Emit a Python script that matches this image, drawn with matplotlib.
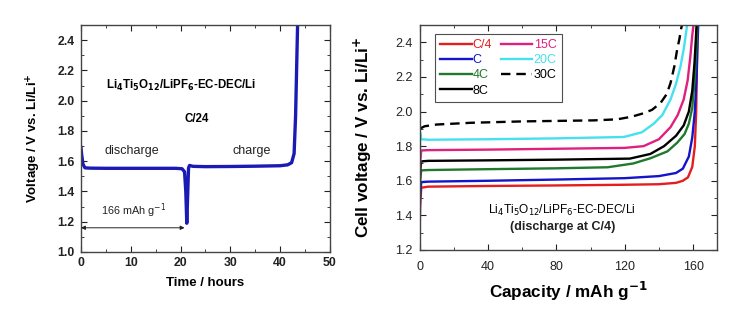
import matplotlib
matplotlib.use("Agg")
import matplotlib.pyplot as plt
from matplotlib.ticker import MultipleLocator

plt.rcParams['font.family'] = ['Liberation Sans', 'DejaVu Sans']

# ---- left panel data (C/24 discharge/charge) ----
time_h = [0, 0.15, 0.4, 0.8, 2, 5, 10, 15, 19, 20.3, 20.8, 21.05, 21.25, 21.45, 21.6, 21.8,
          22.5, 25, 30, 35, 40, 41.5, 42.3, 42.8, 43.1, 43.3, 43.5]
volt_h = [1.69, 1.64, 1.58, 1.556, 1.554, 1.553, 1.553, 1.553, 1.553, 1.55, 1.53, 1.40, 1.19,
          1.40, 1.555, 1.572, 1.566, 1.564, 1.565, 1.567, 1.57, 1.576, 1.59, 1.65, 1.9, 2.2, 2.5]

# ---- right panel data (charge curves at various rates) ----
rates = ["C/4", "C", "4C", "8C", "15C", "20C", "30C"]
cap_c4 = [0, 0.3, 1, 5, 40, 80, 120, 140, 150, 154, 157, 159.5, 161, 161.8, 162.3, 162.6]
v_c4 = [1.22, 1.45, 1.56, 1.566, 1.57, 1.573, 1.577, 1.58, 1.588, 1.6, 1.62, 1.68, 1.8, 2.0, 2.3, 2.5]
cap_c1 = [0, 0.3, 1, 5, 40, 80, 120, 140, 150, 154, 157.5, 159.5, 161, 162, 162.6, 163]
v_c1 = [1.25, 1.5, 1.592, 1.595, 1.6, 1.607, 1.615, 1.627, 1.645, 1.67, 1.74, 1.85, 2.0, 2.2, 2.4, 2.5]
cap_4c = [0, 0.3, 1, 5, 40, 80, 110, 125, 135, 145, 150.7, 155, 157.5, 159.5, 161, 162, 162.5]
v_4c = [1.3, 1.6, 1.66, 1.662, 1.667, 1.672, 1.678, 1.7, 1.73, 1.77, 1.82, 1.87, 1.93, 2.02, 2.2, 2.4, 2.5]
cap_8c = [0, 0.3, 1, 5, 40, 80, 123, 135, 143, 150, 154.5, 157.5, 159.5, 160.8, 161.6, 162]
v_8c = [1.3, 1.65, 1.712, 1.715, 1.718, 1.722, 1.728, 1.755, 1.8, 1.86, 1.92, 2.0, 2.12, 2.28, 2.42, 2.5]
cap_15c = [0, 0.3, 1, 5, 40, 80, 120, 131, 140, 146.8, 151, 154.5, 156.8, 158.4, 159.5, 160.2]
v_15c = [1.3, 1.7, 1.775, 1.777, 1.78, 1.785, 1.79, 1.8, 1.84, 1.91, 1.98, 2.07, 2.18, 2.32, 2.44, 2.5]
cap_20c = [0, 0.3, 1, 5, 40, 80, 119.5, 130, 137, 142, 146.8, 150, 152.6, 154.5, 155.8, 156.5]
v_20c = [1.3, 1.88, 1.84, 1.837, 1.84, 1.845, 1.853, 1.88, 1.93, 1.98, 2.07, 2.16, 2.26, 2.36, 2.45, 2.5]
cap_30c = [0.5, 1, 3, 10, 30, 60, 102, 115.6, 124, 131, 136, 141, 144.5, 146.8, 149, 150.7, 152, 153, 154]
v_30c = [1.9, 1.905, 1.915, 1.925, 1.935, 1.943, 1.949, 1.955, 1.97, 1.99, 2.01, 2.05, 2.1, 2.165, 2.26, 2.36, 2.42, 2.48, 2.52]

cap_series = [cap_c4, cap_c1, cap_4c, cap_8c, cap_15c, cap_20c, cap_30c]
v_series = [v_c4, v_c1, v_4c, v_8c, v_15c, v_20c, v_30c]
colors = ['#e41e1e', '#1414c8', '#1f7a2e', '#000000', '#e0207e', '#46e0ee', '#000000']
styles = ['-', '-', '-', '-', '-', '-', (0, (4, 2.5))]

fig = plt.figure(figsize=(7.54, 3.2), dpi=100)

def style_axes(ax, fs, bold, xpad=3.5, ypad=4):
    ax.tick_params(which='both', direction='in', top=True, right=True, labelsize=fs,
                   colors='#222222')
    ax.tick_params(axis='x', pad=xpad)
    ax.tick_params(axis='y', pad=ypad)
    ax.tick_params(which='major', length=4)
    ax.tick_params(which='minor', length=2.5)
    if bold:
        for lab in ax.get_xticklabels() + ax.get_yticklabels():
            lab.set_fontweight('bold')
    for sp in ax.spines.values():
        sp.set_color('#444444')
        sp.set_linewidth(1.0)

# ---- left axes ----
ax1 = fig.add_axes([0.1074, 0.2125, 0.3302, 0.7094])
ax1.plot(time_h, volt_h, color='#1a1ab4', lw=2.4)
ax1.set_xlim(0, 50)
ax1.set_ylim(1.0, 2.5)
ax1.xaxis.set_major_locator(MultipleLocator(10))
ax1.xaxis.set_minor_locator(MultipleLocator(5))
ax1.yaxis.set_major_locator(MultipleLocator(0.2))
ax1.yaxis.set_minor_locator(MultipleLocator(0.1))
style_axes(ax1, 8.8, True, xpad=3.5, ypad=4.5)
ax1.set_xlabel("Time / hours", fontsize=9.5, fontweight='bold', labelpad=6)
ax1.set_ylabel("Voltage / V vs. Li/Li$^{\\mathbf{+}}$", fontsize=9.5, fontweight='bold', labelpad=10)
ax1.text(20.0, 2.1, r"Li$_\mathbf{4}$Ti$_\mathbf{5}$O$_\mathbf{12}$/LiPF$_\mathbf{6}$-EC-DEC/Li",
         fontsize=8.3, fontweight='bold', ha='center', va='center')
ax1.text(23.3, 1.88, "C/24", fontsize=8.3, fontweight='bold', ha='center', va='center')
ax1.text(10.3, 1.665, "discharge", fontsize=9, ha='center', va='center', color='#222222')
ax1.text(34.3, 1.665, "charge", fontsize=9, ha='center', va='center', color='#222222')
ax1.text(10.5, 1.275, "166 mAh g$^{-1}$", fontsize=7.8, ha='center', va='center', color='#222222')
ax1.annotate("", xy=(0, 1.16), xytext=(20.8, 1.16),
             arrowprops=dict(arrowstyle='<|-|>', color='#222222', lw=0.7,
                             mutation_scale=6, shrinkA=0, shrinkB=0))

# ---- right axes ----
ax2 = fig.add_axes([0.5564, 0.21875, 0.3946, 0.7031])
for lab, xs, ys, c, ls in zip(rates, cap_series, v_series, colors, styles):
    ax2.plot(xs, ys, color=c, ls=ls, lw=1.7, label=lab)
ax2.set_xlim(0, 174)
ax2.set_ylim(1.2, 2.5)
ax2.xaxis.set_major_locator(MultipleLocator(40))
ax2.xaxis.set_minor_locator(MultipleLocator(20))
ax2.yaxis.set_major_locator(MultipleLocator(0.2))
ax2.yaxis.set_minor_locator(MultipleLocator(0.1))
style_axes(ax2, 9, False, xpad=8, ypad=5)
ax2.set_xlabel("Capacity / mAh g$^{\\mathbf{-1}}$", fontsize=12.3, fontweight='bold', labelpad=5)
ax2.set_ylabel("Cell voltage / V vs. Li/Li$^{\\mathbf{+}}$", fontsize=12.3, fontweight='bold', labelpad=15)
ax2.text(83.5, 1.43, r"Li$_4$Ti$_5$O$_{12}$/LiPF$_6$-EC-DEC/Li", fontsize=8.6,
         ha='center', va='center')
ax2.text(83.5, 1.335, "(discharge at C/4)", fontsize=9, fontweight='bold',
         ha='center', va='center', color='#222222')
leg = ax2.legend(ncol=2, loc='upper left', bbox_to_anchor=(0.03, 0.99), frameon=True,
                 fancybox=False, edgecolor='#222222', fontsize=9, handlelength=2.5,
                 handletextpad=0.1, columnspacing=0.7, labelspacing=0.25,
                 borderpad=0.45, labelcolor='linecolor')
leg.get_frame().set_linewidth(0.8)

fig.savefig("out.png", dpi=100)
